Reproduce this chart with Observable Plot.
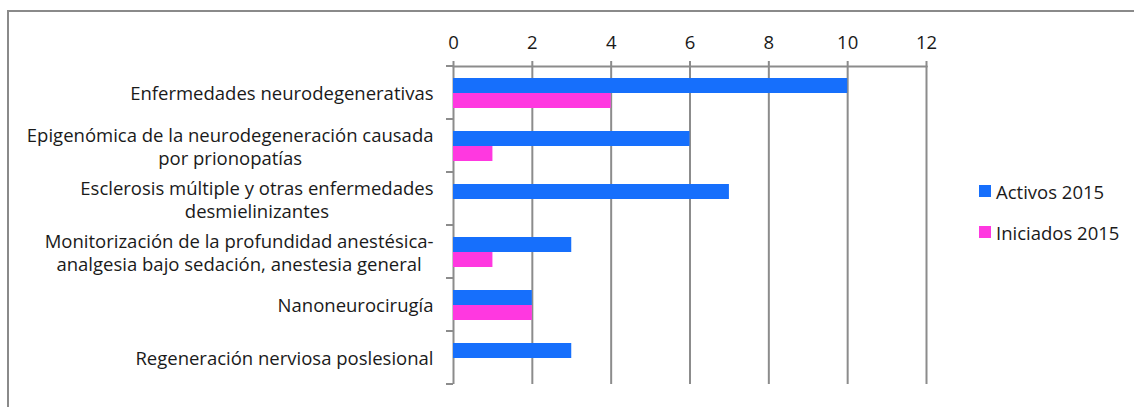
<!DOCTYPE html>
<html><head><meta charset="utf-8">
<script src="https://cdn.jsdelivr.net/npm/d3@7"></script>
<script src="https://cdn.jsdelivr.net/npm/@observablehq/plot@0.6"></script>
<style>
body{margin:0;background:#fff;}
#wrap{position:relative;width:1134px;height:407px;overflow:hidden;font-family:"Open Sans", sans-serif;background:#fff;}
#border{position:absolute;left:7px;top:10px;width:1200px;height:500px;border-left:2px solid #8a8a8a;border-top:2px solid #8a8a8a;box-sizing:border-box;}
#chart{position:absolute;left:0;top:0;}
.item{position:absolute;left:979px;height:20px;display:flex;align-items:center;white-space:nowrap;font-size:18.5px;color:#1a1a1a;}
.sw{display:inline-block;width:12px;height:12px;margin-right:5px;}
</style></head><body>
<div id="wrap"><div id="border"></div><div id="chart"></div><div id="legend"></div></div>
<script>
const categories = [
  "Enfermedades neurodegenerativas",
  "Epigenómica de la neurodegeneración causada por prionopatías",
  "Esclerosis múltiple y otras enfermedades desmielinizantes",
  "Monitorización de la profundidad anestésica-analgesia bajo sedación, anestesia general",
  "Nanoneurocirugía",
  "Regeneración nerviosa poslesional"
];
const categoryTickLabels = [
  "Enfermedades neurodegenerativas",
  "Epigenómica de la neurodegeneración causada\npor prionopatías",
  "Esclerosis múltiple y otras enfermedades\ndesmielinizantes",
  "Monitorización de la profundidad anestésica-\nanalgesia bajo sedación, anestesia general",
  "Nanoneurocirugía",
  "Regeneración nerviosa poslesional"
];
const seriesNames = ["Activos 2015", "Iniciados 2015"];
const activos = [10, 6, 7, 3, 2, 3];
const iniciados = [4, 1, 0, 1, 2, 0];
const xTicks = [0, 2, 4, 6, 8, 10, 12];
const seriesColors = ["#166ffc", "#ff38e0"];

const activosRows = categories.map((c, i) => ({category: c, series: seriesNames[0], value: activos[i]}));
const iniciadosRows = categories.map((c, i) => ({category: c, series: seriesNames[1], value: iniciados[i]}));
const labelOf = new Map(categories.map((c, i) => [c, categoryTickLabels[i]]));
const gridColor = "#8c8c8c";
const fontSize = 18.5;

function boundaryTicks(index, scales, values, dims) {
  const y = scales.y, x = scales.x;
  const bw = y.bandwidth();
  const edges = categories.map(c => y(c)).concat([y(categories[categories.length - 1]) + bw]);
  const g = d3.create("svg:g").attr("stroke", gridColor).attr("stroke-width", 2);
  const x0 = x(0);
  for (const e of edges) {
    g.append("line").attr("x1", x0 - 7).attr("x2", x0).attr("y1", e).attr("y2", e);
  }
  return g.node();
}

const plot = Plot.plot({
  width: 1134,
  height: 407,
  marginLeft: 453,
  marginRight: 208,
  marginTop: 66,
  marginBottom: 23,
  style: {fontFamily: "'Open Sans', sans-serif", fontSize: fontSize + "px", color: "#1a1a1a", background: "transparent", overflow: "visible"},
  x: {domain: [0, 12]},
  y: {domain: categories, padding: 0},
  color: {domain: seriesNames, range: seriesColors},
  marks: [
    Plot.gridX(xTicks, {stroke: gridColor, strokeOpacity: 1, strokeWidth: 2}),
    Plot.frame({anchor: "top", stroke: gridColor, strokeWidth: 2}),
    Plot.barX(activosRows, {y: "category", x: "value", fill: "series", insetTop: 12, insetBottom: 26}),
    Plot.barX(iniciadosRows.filter(d => d.value > 0), {y: "category", x: "value", fill: "series", insetTop: 27, insetBottom: 11}),
    boundaryTicks,
    Plot.axisX(xTicks, {anchor: "top", tickSize: 6, tickPadding: 12, stroke: gridColor, strokeWidth: 2, fontSize: fontSize, label: null}),
    Plot.axisY({tickSize: 0, tickPadding: 20, fontSize: fontSize, lineHeight: 1.22, label: null, tickFormat: d => labelOf.get(d)})
  ]
});
document.getElementById("chart").appendChild(plot);

// center multi-line labels within their block (Excel style)
plot.querySelectorAll('g[aria-label="y-axis tick label"] text').forEach(t => {
  const spans = t.querySelectorAll("tspan");
  if (spans.length > 1) {
    const w = d3.max(Array.from(spans), s => s.getComputedTextLength());
    t.setAttribute("text-anchor", "middle");
    spans.forEach(s => s.setAttribute("x", -w / 2));
  }
});

const legend = document.getElementById("legend");
const legendTops = [181, 222];
seriesNames.forEach((name, i) => {
  const item = document.createElement("div");
  item.className = "item";
  item.style.top = legendTops[i] + "px";
  const sw = document.createElement("span");
  sw.className = "sw";
  sw.style.background = seriesColors[i];
  item.appendChild(sw);
  item.appendChild(document.createTextNode(name));
  legend.appendChild(item);
});
</script>
</body></html>
